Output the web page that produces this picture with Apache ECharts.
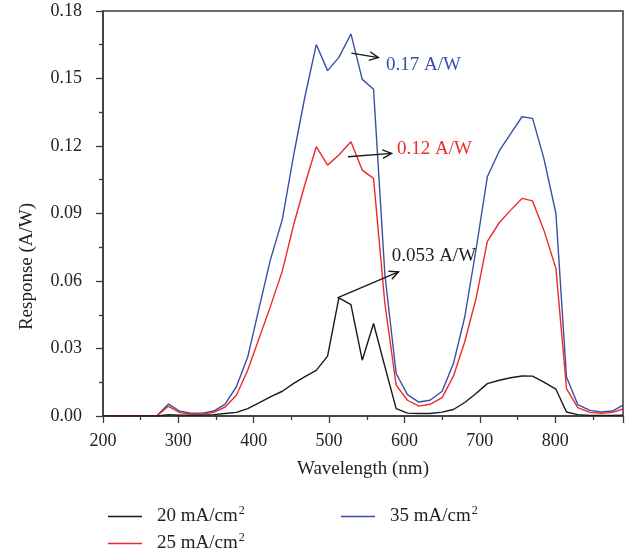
<!DOCTYPE html>
<html>
<head>
<meta charset="utf-8">
<script src="https://cdn.jsdelivr.net/npm/echarts@6/dist/echarts.min.js"></script>
<style>html,body{margin:0;padding:0;background:#fff;}#c{width:637px;height:552px;}</style>
</head>
<body>
<div id="c"></div>
<script>
// Wavelength (nm)
const wavelength = [200, 272, 287, 302, 317, 332, 347, 362, 377, 392, 407, 422, 438, 453, 468, 483, 498, 513, 529, 544, 559, 574, 589, 604, 619, 634, 650, 665, 680, 695, 710, 726, 741, 756, 770, 785, 801, 815, 830, 846, 861, 876, 890];
// Response (A/W)
const resp20 = [0, 0, 0.0006, 0.0004, 0.0004, 0.0004, 0.0006, 0.0011, 0.0016, 0.0033, 0.0058, 0.0085, 0.011, 0.0145, 0.0175, 0.0203, 0.0266, 0.0525, 0.0495, 0.0248, 0.0411, 0.022, 0.0033, 0.0013, 0.0011, 0.0011, 0.0017, 0.0029, 0.006, 0.010, 0.0144, 0.0159, 0.017, 0.0178, 0.0177, 0.0151, 0.0119, 0.0018, 0.0006, 0.0003, 0.0003, 0.0003, 0.0004];
const resp25 = [0, 0.0002, 0.0043, 0.0015, 0.0009, 0.0009, 0.0016, 0.004, 0.0092, 0.0203, 0.0344, 0.0485, 0.0645, 0.085, 0.103, 0.1197, 0.1115, 0.116, 0.1219, 0.1093, 0.1056, 0.05, 0.0137, 0.007, 0.0044, 0.0052, 0.0082, 0.0177, 0.033, 0.0522, 0.0776, 0.086, 0.0915, 0.0967, 0.0956, 0.0826, 0.0656, 0.0122, 0.0037, 0.0016, 0.0012, 0.0016, 0.0031];
const resp35 = [0, 0.0003, 0.0053, 0.0021, 0.0013, 0.0013, 0.0022, 0.0053, 0.013, 0.0262, 0.0478, 0.0693, 0.0874, 0.116, 0.142, 0.1651, 0.1535, 0.1594, 0.1698, 0.1496, 0.1452, 0.063, 0.0189, 0.0095, 0.0062, 0.007, 0.011, 0.0233, 0.044, 0.074, 0.1063, 0.1179, 0.1255, 0.133, 0.1323, 0.1145, 0.09, 0.0173, 0.0051, 0.0025, 0.0018, 0.0022, 0.0048];
const seriesNames = ['20 mA/cm2', '25 mA/cm2', '35 mA/cm2'];
const peakLabels = ['0.053 A/W', '0.12 A/W', '0.17 A/W'];

const FONT = '"Liberation Serif", "DejaVu Serif", serif';
const colors = ['#1a1a1a', '#ee2a2a', '#3a4ea6'];
const axisColor = '#3a3a3a';

function pairs(ys) { return wavelength.map((x, i) => [x, ys[i]]); }

const chart = echarts.init(document.getElementById('c'));
const legendRich = {
  a: { fontFamily: FONT, fontSize: 19, color: '#222', padding: [0, 0, 0, 10] },
  s: { fontFamily: FONT, fontSize: 12, color: '#222', padding: [0, 0, 11, 1] }
};
function legendFmt(name) { return '{a|' + name.replace(/2$/, '') + '}{s|2}'; }
const legendBase = {
  orient: 'horizontal', itemWidth: 34, itemHeight: 1.6, icon: 'rect',
  formatter: legendFmt, textStyle: { rich: legendRich }, selectedMode: false
};

chart.setOption({
  animation: false,
  backgroundColor: '#fff',
  grid: { left: 103, right: 14, top: 11, bottom: 136, show: true, borderColor: axisColor, borderWidth: 1.5, containLabel: false, outerBoundsMode: 'none' },
  legend: [
    Object.assign({}, legendBase, { data: [seriesNames[0]], left: 103, top: 500 }),
    Object.assign({}, legendBase, { data: [seriesNames[2]], left: 336, top: 500 }),
    Object.assign({}, legendBase, { data: [seriesNames[1]], left: 103, top: 527 })
  ],
  xAxis: {
    type: 'value', min: 200, max: 890, interval: 100,
    name: 'Wavelength (nm)', nameLocation: 'middle', nameGap: 44,
    nameTextStyle: { fontFamily: FONT, fontSize: 19, color: '#222' },
    axisLine: { show: true, onZero: false, lineStyle: { color: axisColor, width: 1.5 } },
    axisTick: { show: true, inside: false, length: 7, lineStyle: { color: axisColor, width: 1.3 } },
    minorTick: { show: true, splitNumber: 2, length: 4, lineStyle: { color: axisColor, width: 1.3 } },
    axisLabel: { fontFamily: FONT, fontSize: 18, color: '#222', margin: 16, showMaxLabel: false, showMinLabel: true },
    splitLine: { show: false }
  },
  yAxis: {
    type: 'value', min: 0, max: 0.18, interval: 0.03,
    name: 'Response (A/W)', nameLocation: 'middle', nameGap: 66, nameRotate: 90,
    nameTextStyle: { fontFamily: FONT, fontSize: 19, color: '#222', padding: [0, 106, 0, 0] },
    axisLine: { show: true, onZero: false, lineStyle: { color: axisColor, width: 1.5 } },
    axisTick: { show: true, inside: false, length: 7, lineStyle: { color: axisColor, width: 1.3 } },
    minorTick: { show: true, splitNumber: 2, length: 4, lineStyle: { color: axisColor, width: 1.3 } },
    axisLabel: { fontFamily: FONT, fontSize: 18, color: '#222', margin: 21, formatter: v => v.toFixed(2) },
    splitLine: { show: false }
  },
  series: [resp20, resp25, resp35].map((d, i) => ({
    name: seriesNames[i], type: 'line', data: pairs(d), symbol: 'none', showSymbol: false,
    color: colors[i], lineStyle: { color: colors[i], width: 1.4 }, z: 3 - i
  }))
});

// Peak annotations: arrow from peak towards label (data coordinates)
const annotations = [
  { text: peakLabels[0], color: '#222', from: [511, 0.0525], to: [592, 0.0641], label: [583, 0.0712] },
  { text: peakLabels[1], color: colors[1], from: [525, 0.1152], to: [583, 0.1167], label: [590, 0.1185] },
  { text: peakLabels[2], color: colors[2], from: [529.6, 0.1613], to: [565.4, 0.1593], label: [575.6, 0.156] }
];
const graphics = [];
annotations.forEach(a => {
  const p0 = chart.convertToPixel({ gridIndex: 0 }, a.from);
  const p1 = chart.convertToPixel({ gridIndex: 0 }, a.to);
  const pl = chart.convertToPixel({ gridIndex: 0 }, a.label);
  const ang = Math.atan2(p1[1] - p0[1], p1[0] - p0[0]);
  const L = 10, w = 0.45;
  const h1 = [p1[0] - L * Math.cos(ang - w), p1[1] - L * Math.sin(ang - w)];
  const h2 = [p1[0] - L * Math.cos(ang + w), p1[1] - L * Math.sin(ang + w)];
  graphics.push({ type: 'line', shape: { x1: p0[0], y1: p0[1], x2: p1[0], y2: p1[1] }, style: { stroke: '#1a1a1a', lineWidth: 1.4 }, z: 10 });
  graphics.push({ type: 'polyline', shape: { points: [h1, p1, h2] }, style: { stroke: '#1a1a1a', lineWidth: 1.4, fill: null }, z: 10 });
  graphics.push({ type: 'text', x: pl[0], y: pl[1], style: { text: a.text, fill: a.color, font: '19px ' + FONT, verticalAlign: 'middle', align: 'left' }, z: 10 });
});
chart.setOption({ graphic: graphics });
</script>
</body>
</html>
